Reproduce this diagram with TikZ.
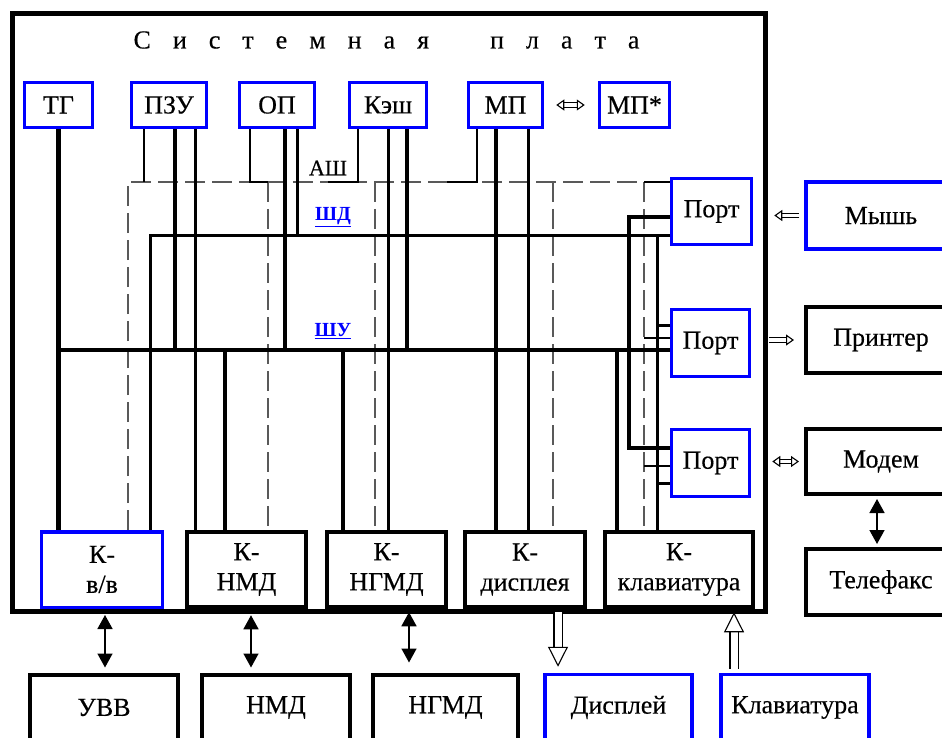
\documentclass[tikz,border=0pt]{standalone}
\usepackage{fontspec}
\setmainfont{Liberation Serif}
\newfontfamily\heavyserif[FakeBold=0.3]{Liberation Serif}
\usetikzlibrary{arrows.meta}
\newcommand\bxfont{\heavyserif\fontsize{26}{30}\selectfont}
\newcommand\lsp{\hskip 22pt}
\newcommand\wsp{\hskip 61pt}
\pgfdeclarelayer{bg}
\pgfsetlayers{bg,main}
\tikzset{
  bx/.style={draw=black, line width=4pt, fill=white, inner sep=0pt, align=center, font=\bxfont},
  bb/.style={bx, draw=blue, line width=3.5pt},
  thk/.style={line width=4.8pt},
  med/.style={line width=3pt},
  thn/.style={line width=1.9pt},
  dsh/.style={line width=1.7pt, draw=black!65, dash pattern=on 20pt off 7pt},
  Ht/.tip={Triangle[open, fill=white, line width=1.1pt, length=8pt, width=11pt]},
  Bt/.tip={Triangle[open, fill=white, line width=1.1pt, length=20pt, width=20pt]},
  Ft/.tip={Triangle[length=14pt, width=15pt]},
  hol/.style={draw=black, line width=1.1pt, double=white, double distance=3.4pt},
  bhol/.style={draw=black, line width=1.1pt, double=white, double distance=7pt, -Bt},
  farr/.style={line width=1.5pt, Ft-Ft},
  buslab/.style={text=blue, font=\fontsize{20}{22}\selectfont\bfseries, inner sep=0pt},
}
\begin{document}
\begin{tikzpicture}[x=1pt,y=-1pt]
\useasboundingbox (0,0) rectangle (942,738);
\clip (0,0) rectangle (942,738);

% title
\node[font=\bxfont, inner sep=0pt] (title) at (386.5,40) {С\lsp и\lsp с\lsp т\lsp е\lsp м\lsp н\lsp а\lsp я\wsp п\lsp л\lsp а\lsp т\lsp а};

% top boxes
\node[bb, minimum width=68pt, minimum height=45pt] (tg)   at (58.5,105) {ТГ};
\node[bb, minimum width=75pt, minimum height=45pt] (pzu)  at (169,105) {ПЗУ};
\node[bb, minimum width=75pt, minimum height=45pt] (op)   at (277,105) {ОП};
\node[bb, minimum width=77pt, minimum height=45pt] (kesh) at (388,105) {Кэш};
\node[bb, minimum width=74pt, minimum height=45pt] (mp)   at (505.5,105) {МП};
\node[bb, minimum width=70pt, minimum height=45pt] (mps)  at (634.5,105) {МП*};

% ports
\node[bb, minimum width=80pt, minimum height=66pt] (p1) at (711.5,211.5) {Порт};
\node[bb, minimum width=78pt, minimum height=67pt] (p2) at (710.5,343) {Порт};
\node[bb, minimum width=78pt, minimum height=67pt] (p3) at (710.5,463) {Порт};

% right devices
\node[bb, minimum width=150pt, minimum height=67pt] (mouse) at (881,215.5) {Мышь};
\node[bx, minimum width=150pt, minimum height=66pt] (prn)   at (881,340) {Принтер};
\node[bx, minimum width=150pt, minimum height=65pt] (mdm)   at (881,461.5) {Модем};
\node[bx, minimum width=150pt, minimum height=66pt] (fax)   at (881,582) {Телефакс};

% controllers
\node[bb, minimum width=121pt, minimum height=75.5pt] (kvv)   at (102,569.5) {К-\\в/в};
\node[bx, minimum width=119pt, minimum height=75.5pt] (knmd)  at (246.5,569.5) {К-\\НМД};
\node[bx, minimum width=119pt, minimum height=75.5pt] (kngmd) at (386.5,569.5) {К-\\НГМД};
\node[bx, minimum width=120pt, minimum height=75.5pt] (kdisp) at (525,569.5) {К-\\дисплея};
\node[bx, minimum width=148pt, minimum height=75.5pt] (kklav) at (679,569.5) {К-\\клавиатура};

% external devices
\node[bx, minimum width=148pt, minimum height=66pt] (uvv)  at (104,707.5) {УВВ};
\node[bx, minimum width=148pt, minimum height=66pt] (nmd)  at (276,707.5) {НМД};
\node[bx, minimum width=145pt, minimum height=66pt] (ngmd) at (445.5,707.5) {НГМД};
\node[bb, minimum width=147pt, minimum height=66pt] (disp) at (618.5,707.5) {Дисплей};
\node[bb, minimum width=148pt, minimum height=66pt] (klav) at (795,707.5) {Клавиатура};

% bus rows and columns
\coordinate (ash) at (0,182);
\coordinate (shd) at (0,235);
\coordinate (shu) at (0,350);
\foreach \r in {217,325,338,448,466,483} \coordinate (r\r) at (0,\r);
\foreach \c in {128,144,150,175,195,225,250,268,285,297,343,358,375,407,477,496,528,553,617,629,644,657} \coordinate (c\c) at (\c,0);

\begin{pgfonlayer}{bg}
% address bus (dashed)
\draw[dsh] (c128 |- kvv.north) -- (c128 |- ash) -- (c644 |- ash) -- (c644 |- kklav.north);
\draw[dsh] (c268 |- ash) -- (c268 |- knmd.north);
\draw[dsh] (c375 |- ash) -- (c375 |- kngmd.north);
\draw[dsh] (c553 |- ash) -- (c553 |- kdisp.north);
\draw[thn] (c644 |- ash) -- (p1.west |- ash);
\draw[thn] (c644 |- r338) -- (p2.west |- r338);
\draw[thn] (c644 |- r466) -- (p3.west |- r466);
\draw[thn] (c144 |- pzu.south) -- (c144 |- ash);
\draw[thn] (c250 |- op.south) -- (c250 |- ash) -- (c268 |- ash);
\draw[thn] (c358 |- kesh.south) -- (c358 |- ash) -- +(-30,0);
\draw[thn] (c477 |- mp.south) -- (c477 |- ash) -- +(-30,0);
% data bus
\draw[med] (c150 |- kvv.north) -- (c150 |- shd) -- (p1.west |- shd);
\draw[med] (c195 |- pzu.south) -- (c195 |- knmd.north);
\draw[med] (c297 |- op.south) -- (c297 |- shd);
\draw[med] (kesh.south) -- (kesh.south |- kngmd.north);
\draw[med] (c528 |- mp.south) -- (c528 |- kdisp.north);
\draw[med] (c657 |- shd) -- (c657 |- kklav.north);
\draw[med] (c657 |- r325) -- (p2.west |- r325);
\draw[med] (c657 |- r483) -- (p3.west |- r483);
% control bus
\draw[thk] (tg.south) -- (tg.south |- kvv.north);
\draw[thk] (tg.south |- shu) -- (p2.west |- shu);
\draw[thk] (c175 |- pzu.south) -- (c175 |- shu);
\draw[thk] (c285 |- op.south) -- (c285 |- shu);
\draw[thk] (c407 |- kesh.south) -- (c407 |- shu);
\draw[thk] (c496 |- mp.south) -- (c496 |- kdisp.north);
\draw[thk] (c225 |- shu) -- (c225 |- knmd.north);
\draw[thk] (c343 |- shu) -- (c343 |- kngmd.north);
\draw[thk] (c617 |- shu) -- (c617 |- kklav.north);
\draw[thk] (p1.west |- r217) -- (c629 |- r217) -- (c629 |- r448) -- (p3.west |- r448);
\end{pgfonlayer}

% bus labels
\node[font=\heavyserif\fontsize{22}{24}\selectfont, inner sep=0pt] (ashl) at (328,168) {АШ};
\node[buslab] (shdl) at (333,217) {\underline{ШД}};
\node[buslab] (shul) at (333,331) {\underline{ШУ}};

% board frame
\draw[line width=5pt] (12,14) rectangle (765,611);

% arrows
\draw[hol, Ht-Ht, shorten <=12pt, shorten >=13pt] (mp.east) -- (mps.west);
\draw[hol, -Ht, shorten <=5pt, shorten >=21pt] (mouse.west) -- (p1.east |- mouse.west);
\draw[hol, -Ht, shorten <=18pt, shorten >=10pt] (p2.east |- prn.west) -- (prn.west);
\draw[hol, Ht-Ht, shorten <=21pt, shorten >=5pt] (p3.east |- mdm.west) -- (mdm.west);
\draw[farr, shorten <=3pt, shorten >=3pt] ([xshift=-4pt]mdm.south) -- ([xshift=-4pt]fax.north);
\draw[farr, shorten <=6pt, shorten >=5pt] ([xshift=3pt]kvv.south) -- ([xshift=3pt]kvv.south |- uvv.north);
\draw[farr, shorten <=6pt, shorten >=5pt] ([xshift=4.5pt]knmd.south) -- ([xshift=4.5pt]knmd.south |- nmd.north);
\draw[farr, shorten <=3pt, shorten >=10pt] ([xshift=22.5pt]kngmd.south) -- ([xshift=22.5pt]kngmd.south |- ngmd.north);
\draw[bhol, shorten <=3pt, shorten >=6pt] ([xshift=33pt]kdisp.south) -- ([xshift=33pt]kdisp.south |- disp.north);
\draw[bhol, shorten <=4pt, shorten >=3pt] ([xshift=55pt]kklav.south |- klav.north) -- ([xshift=55pt]kklav.south);
\end{tikzpicture}
\end{document}
